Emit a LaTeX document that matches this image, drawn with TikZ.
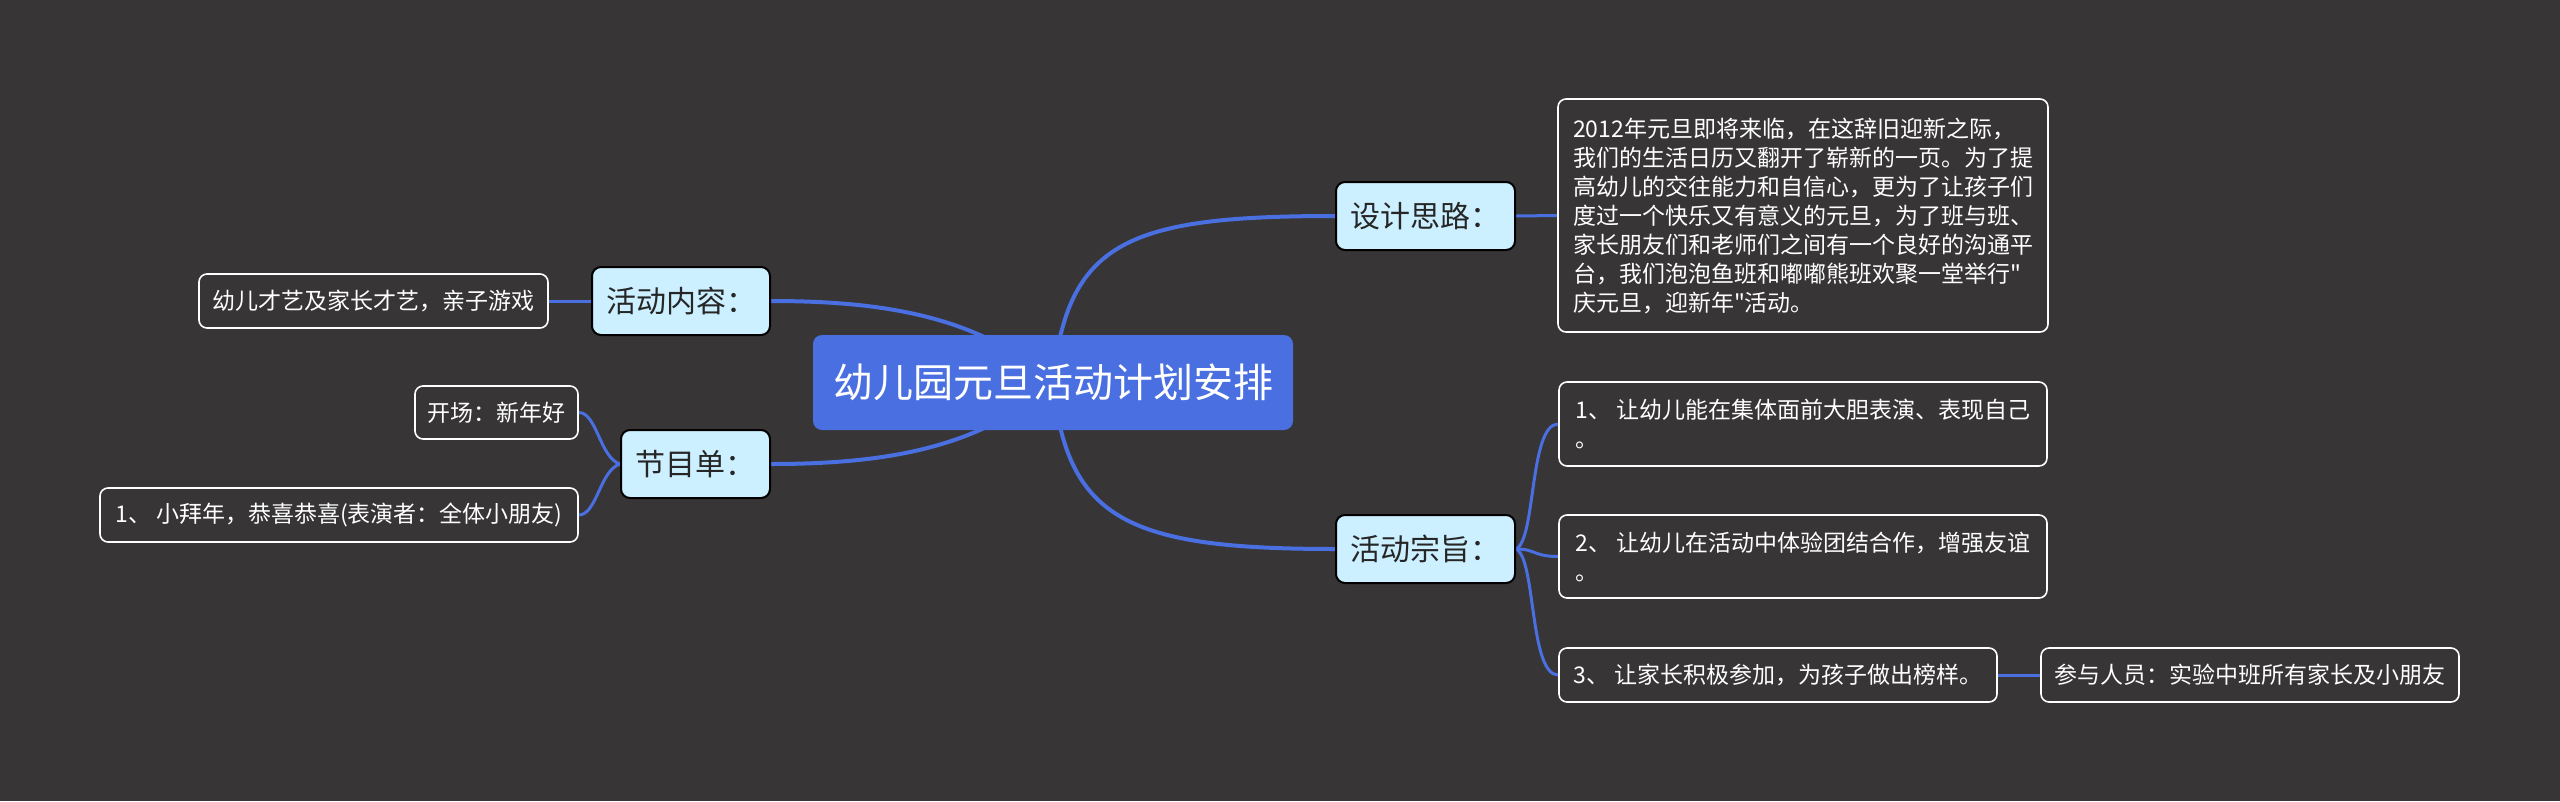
\documentclass[tikz,border=0pt]{standalone}
\usepackage{fontspec}
\newfontfamily\cjk{Noto Sans CJK SC}
\usetikzlibrary{backgrounds}
\definecolor{bg}{HTML}{373536}
\definecolor{rootblue}{HTML}{4A6FE0}
\definecolor{topicfill}{HTML}{CCF0FF}
\definecolor{linkblue}{HTML}{4A6FE0}
\begin{document}
\begin{tikzpicture}[x=1pt,y=-1pt,
 rootnode/.style={fill=rootblue, rounded corners=9pt, text=white, font=\cjk\fontsize{40}{48}\selectfont, minimum width=480pt, minimum height=95pt, inner sep=0pt},
 topic/.style={fill=topicfill, draw=black, line width=2pt, rounded corners=9pt, text=black!85, font=\cjk\fontsize{30}{36}\selectfont, minimum height=68pt, inner sep=0pt},
 leaf/.style={fill=bg, draw=white, line width=1.6pt, rounded corners=8pt, text=white, font=\cjk\fontsize{23}{26}\selectfont, align=left, inner sep=0pt},
 link/.style={draw=linkblue, line width=4pt},
 sublink/.style={draw=linkblue, line width=3pt},
]
\useasboundingbox (0,0) rectangle (2560,801);

% root
\node[rootnode] (root) at (1053,382.5) {幼儿园元旦活动计划安排};

% topics
\node[topic, minimum width=179pt] (sheji) at (1425.5,216) {设计思路：};
\node[topic, minimum width=179pt] (zongzhi) at (1425.5,549) {活动宗旨：};
\node[topic, minimum width=178pt] (neirong) at (681,301) {活动内容：};
\node[topic, minimum width=149pt] (jiemu) at (695.5,464) {节目单：};

% leaves right
\node[leaf, minimum width=490pt, minimum height=233pt] (tsheji) at (1803,215.5) {2012年元旦即将来临，在这辞旧迎新之际，\\[3pt]我们的生活日历又翻开了崭新的一页。为了提\\[3pt]高幼儿的交往能力和自信心，更为了让孩子们\\[3pt]度过一个快乐又有意义的元旦，为了班与班、\\[3pt]家长朋友们和老师们之间有一个良好的沟通平\\[3pt]台，我们泡泡鱼班和嘟嘟熊班欢聚一堂举行"\\[3pt]庆元旦，迎新年"活动。};
\node[leaf, minimum width=488pt, minimum height=84pt] (zone) at (1803,424) {1、 让幼儿能在集体面前大胆表演、表现自己\\[3pt]。};
\node[leaf, minimum width=488pt, minimum height=83pt] (ztwo) at (1803,556.5) {2、 让幼儿在活动中体验团结合作，增强友谊\\[3pt]。};
\node[leaf, minimum width=438pt, minimum height=54pt] (zthree) at (1778,675) {3、 让家长积极参加，为孩子做出榜样。};
\node[leaf, minimum width=418pt, minimum height=54pt] (zfour) at (2250,675) {参与人员：实验中班所有家长及小朋友};

% leaves left
\node[leaf, minimum width=349pt, minimum height=54pt] (cai) at (373.5,301) {幼儿才艺及家长才艺，亲子游戏};
\node[leaf, minimum width=163pt, minimum height=53pt] (kai) at (496.5,412.5) {开场：新年好};
\node[leaf, minimum width=478pt, minimum height=54pt] (xiao) at (339,515) {1、 小拜年，恭喜恭喜(表演者：全体小朋友)};

\begin{pgfonlayer}{background}
\fill[bg] (0,0) rectangle (2560,801);
% main links
\draw[link] (root.center) .. controls +(14,-142) and +(-206,0) .. (sheji.west);
\draw[link] (root.center) .. controls +(14,138) and +(-206,0) .. (zongzhi.west);
\draw[link] (neirong.east) .. controls +(110,0) and +(-73,-67) .. (root.center);
\draw[link] (jiemu.east) .. controls +(110,0) and +(-73,67) .. (root.center);
% sub links
\draw[sublink] (sheji.east) -- (tsheji.west);
\draw[sublink] (zongzhi.east) .. controls +(20,-9) and +(-29,0) .. (zone.west);
\draw[sublink] (zongzhi.east) .. controls +(20,0) and +(-25,0) .. (ztwo.west);
\draw[sublink] (zongzhi.east) .. controls +(20,9) and +(-29,0) .. (zthree.west);
\draw[sublink] (zthree.east) -- (zfour.west);
\draw[sublink] (neirong.west) -- (cai.east);
\draw[sublink] (jiemu.west) .. controls +(-20,-6) and +(18,0) .. (kai.east);
\draw[sublink] (jiemu.west) .. controls +(-20,6) and +(18,0) .. (xiao.east);
\end{pgfonlayer}
\end{tikzpicture}
\end{document}
